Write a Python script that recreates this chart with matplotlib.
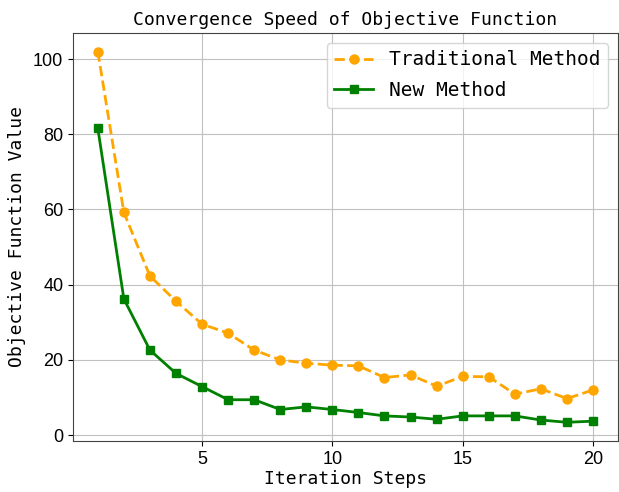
# Convergence speed comparison: traditional vs new method

import matplotlib
matplotlib.use('Agg')
import matplotlib.pyplot as plt

# data
steps = list(range(1, 21))
traditional = [102.0, 59.2, 42.3, 35.6, 29.5, 27.1, 22.6, 20.0, 19.1, 18.6,
               18.4, 15.3, 16.0, 13.0, 15.6, 15.5, 10.9, 12.3, 9.7, 12.0]
new_method = [81.6, 36.2, 22.6, 16.4, 12.9, 9.4, 9.4, 6.8, 7.5, 6.8,
              6.0, 5.1, 4.8, 4.2, 5.1, 5.1, 5.1, 4.0, 3.4, 3.7]

mono = 'DejaVu Sans Mono'
plt.rcParams['font.family'] = ['Liberation Sans', 'DejaVu Sans']

fig, ax = plt.subplots(figsize=(6.19, 4.92), dpi=100)
fig.subplots_adjust(left=0.118, right=0.998, top=0.933, bottom=0.104)

ax.plot(steps, traditional, linestyle='--', marker='o', color='orange',
        linewidth=2, markersize=6.5, label='Traditional Method')
ax.plot(steps, new_method, linestyle='-', marker='s', color='green',
        linewidth=2, markersize=6, label='New Method')

ax.set_title('Convergence Speed of Objective Function', family=mono, fontsize=13)
ax.set_xlabel('Iteration Steps', family=mono, fontsize=13, labelpad=2)
ax.set_ylabel('Objective Function Value', family=mono, fontsize=13, labelpad=5)
ax.tick_params(labelsize=13)
ax.set_xticks([5, 10, 15, 20])
ax.grid(True, color='#c0c0c0')
for s in ax.spines.values():
    s.set_color('#444444')

ax.legend(loc='upper right', prop={'family': mono, 'size': 14}, labelspacing=0.6)

fig.savefig('out.png', dpi=100)
